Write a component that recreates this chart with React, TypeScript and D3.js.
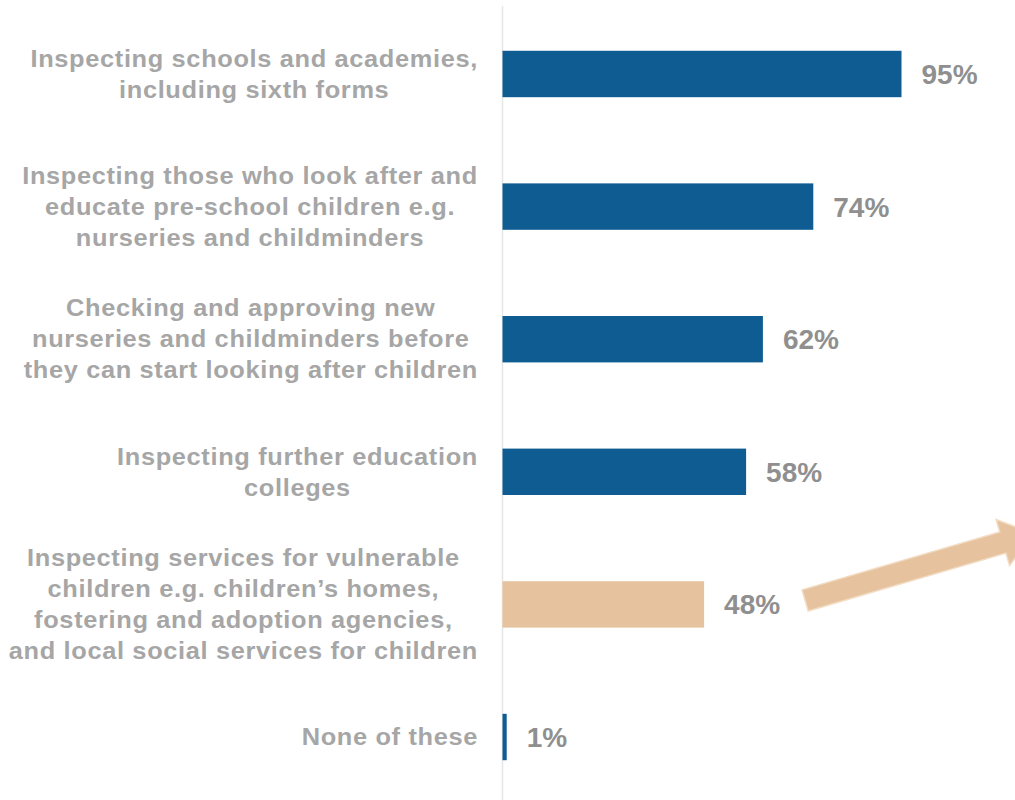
import React from "react";
import * as d3 from "d3";

const categories: string[][] = [
  ["Inspecting schools and academies,", "including sixth forms"],
  ["Inspecting those who look after and", "educate pre-school children e.g.", "nurseries and childminders"],
  ["Checking and approving new", "nurseries and childminders before", "they can start looking after children"],
  ["Inspecting further education", "colleges"],
  ["Inspecting services for vulnerable", "children e.g. children\u2019s homes,", "fostering and adoption agencies,", "and local social services for children"],
  ["None of these"],
];
const values: number[] = [95, 74, 62, 58, 48, 1];
const highlight: boolean[] = [false, false, false, false, true, false];

const W = 1015;
const H = 800;
const BLUE = "#0e5c92";
const TAN = "#e6c39e";
const LABEL = "#a6a6a6";
const VALUE = "#8f8f8f";
const FONT = "'Liberation Sans', Arial, sans-serif";
const LABEL_SIZE = 23;
const LS = 0.6;
const STRETCH = 1.103;

let ctx: CanvasRenderingContext2D | null = null;
function measure(s: string): number {
  if (!ctx) ctx = document.createElement("canvas").getContext("2d");
  if (!ctx) return s.length * LABEL_SIZE * 0.55;
  ctx.font = `bold ${LABEL_SIZE}px ${FONT}`;
  return (ctx.measureText(s).width + LS * s.length) * STRETCH;
}

export default function App() {
  const ids = categories.map((_, i) => String(i));
  const y = d3.scaleBand<string>().domain(ids).range([11, 800]).paddingInner(0.65).paddingOuter(0.3);
  const x = d3.scaleLinear().domain([0, 100]).range([502.5, 922.5]);
  const lineH = 31;
  const labelRight = 478;

  // annotation arrow anchored to highlighted bar
  const hi = highlight.indexOf(true);
  const sx = x(values[hi]) + 101;
  const sy = (y(String(hi)) as number) + y.bandwidth() / 2 - 4;
  const ang = (-16.3 * Math.PI) / 180;
  const shaft = 206;
  const hw = 11;
  const headW = 24;
  const headL = 32;
  const ux = Math.cos(ang), uy = Math.sin(ang);
  const px = -uy, py = ux;
  const pt = (a: number, b: number) => [sx + ux * a + px * b, sy + uy * a + py * b];
  const arrowPts = [
    pt(0, -hw), pt(shaft, -hw), pt(shaft, -headW), pt(shaft + headL, 0),
    pt(shaft, headW), pt(shaft, hw), pt(0, hw),
  ];
  const arrowPath = d3.line()(arrowPts as [number, number][]) + "Z";

  return (
    <svg width={W} height={H} style={{ position: "absolute", left: 0, top: 0, background: "#fff" }}
      fontFamily={FONT}>
      <line x1={x(0)} x2={x(0)} y1={6} y2={H} stroke="#e6e6e6" strokeWidth={1.5} />
      {values.map((v, i) => {
        const by = y(String(i)) as number;
        const cy = by + y.bandwidth() / 2;
        const lines = categories[i];
        const startY = cy - ((lines.length - 1) * lineH) / 2;
        const maxW = d3.max(lines, (l) => measure(l)) as number;
        const cx = labelRight - maxW / 2;
        return (
          <g key={i}>
            <rect x={x(0)} y={by} width={Math.max(x(v) - x(0), 2.5)} height={y.bandwidth()}
              fill={highlight[i] ? TAN : BLUE} />
            <text x={x(v) + 20} y={cy} dy="0.36em" fontSize={28} fontWeight="bold" fill={VALUE}>
              {v + "%"}
            </text>
            <g transform={`translate(${cx},0) scale(${STRETCH},1)`}>
              <text textAnchor="middle" fontSize={LABEL_SIZE} fontWeight="bold" fill={LABEL} letterSpacing={LS}>
                {lines.map((l, j) => (
                  <tspan key={j} x={0} y={startY + j * lineH} dy="0.36em">{l}</tspan>
                ))}
              </text>
            </g>
          </g>
        );
      })}
      <path d={arrowPath} fill={TAN} stroke="#f2dcc4" strokeWidth={1.5} />
    </svg>
  );
}
